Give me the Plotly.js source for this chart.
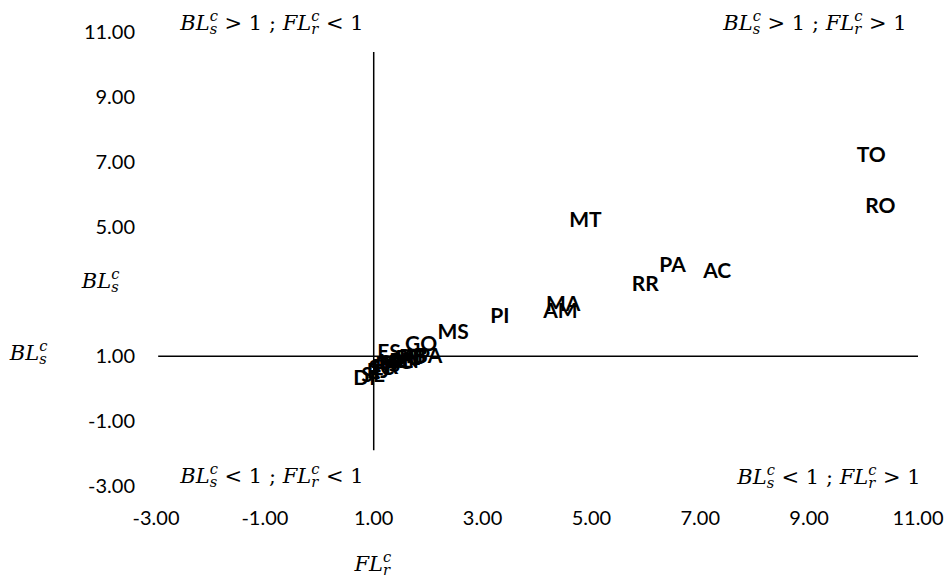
<!DOCTYPE html>
<html>
<head>
<meta charset="utf-8">
<script src="https://cdn.plot.ly/plotly-3.0.1.min.js"></script>
<style>html,body{margin:0;padding:0;background:#fff;}#chart{width:944px;height:577px;}</style>
</head>
<body>
<div id="chart"></div>
<script>
// Region labels (Brazilian states)
const states = ["TO","RO","MT","PA","AC","RR","MA","AM","PI","MS","GO","ES",
  "DF","SE","RJ","SC","PR","RS","SP","MG","CE","RN","PE","PB","AP","BA"];
// FL_r^c (x axis)
const flr = [10.14,10.31,4.89,6.49,7.31,5.99,4.48,4.43,3.32,2.46,1.87,1.28,
  0.88,0.99,1.08,1.14,1.21,1.26,1.34,1.41,1.49,1.56,1.63,1.71,1.78,2.00];
// BL_s^c (y axis)
const bls = [7.14,5.57,5.14,3.75,3.59,3.16,2.57,2.33,2.20,1.68,1.31,1.09,
  0.29,0.38,0.48,0.57,0.63,0.69,0.75,0.78,0.81,0.81,0.88,0.91,0.94,0.97];

const xTickVals = [-3,-1,1,3,5,7,9,11];
const xTickText = ["-3.00","-1.00","1.00","3.00","5.00","7.00","9.00","11.00"];
const yTickVals = [-3,-1,1,5,7,9,11];
const yTickText = ["-3.00","-1.00","1.00","5.00","7.00","9.00","11.00"];

const BL = "<i>BL</i><sub><i>s</i></sub><sup><i>c</i></sup>";
const FL = "<i>FL</i><sub><i>r</i></sub><sup><i>c</i></sup>";
const quadrants = [
  {t: BL + " &gt; 1 ; " + FL + " &lt; 1", x: 0.0185, y: 1.022},
  {t: BL + " &gt; 1 ; " + FL + " &gt; 1", x: 0.731, y: 1.022},
  {t: BL + " &lt; 1 ; " + FL + " &lt; 1", x: 0.0185, y: 0.024},
  {t: BL + " &lt; 1 ; " + FL + " &gt; 1", x: 0.749, y: 0.022}
];

const mathFont = {family: "DejaVu Serif, Liberation Serif, serif", size: 21, color: "#000"};
const annotations = quadrants.map(q => ({
  text: q.t, x: q.x, y: q.y, xref: "paper", yref: "paper", xanchor: "left", yanchor: "middle",
  showarrow: false, font: mathFont
}));
annotations.push({text: BL, x: -0.074, y: 0.453, xref: "paper", yref: "paper", xanchor: "center", yanchor: "middle", showarrow: false, font: mathFont});
annotations.push({text: BL, x: -0.168, y: 0.295, xref: "paper", yref: "paper", xanchor: "center", yanchor: "middle", showarrow: false, font: mathFont});
annotations.push({text: FL, x: 0.284, y: -0.170, xref: "paper", yref: "paper", xanchor: "center", yanchor: "middle", showarrow: false, font: mathFont});

const trace = {
  type: "scatter", mode: "text", x: flr, y: bls, text: states,
  textposition: "middle center", cliponaxis: false,
  textfont: {family: "Lato, Open Sans, sans-serif", size: 21, color: "#000", weight: "bold"},
  hoverinfo: "skip"
};

const layout = {
  width: 944, height: 577,
  margin: {l: 156, r: 26, t: 32, b: 91, pad: 0},
  paper_bgcolor: "#fff", plot_bgcolor: "#fff",
  showlegend: false,
  font: {family: "Lato, Open Sans, sans-serif", size: 20, color: "#000"},
  xaxis: {range: [-3, 11], tickvals: xTickVals, ticktext: xTickText, showgrid: false, zeroline: false,
    showline: false, ticks: "", ticklabelstandoff: 18, tickfont: {size: 20, color: "#000"}},
  yaxis: {range: [-3, 11], tickvals: yTickVals, ticktext: yTickText, showgrid: false, zeroline: false,
    showline: false, ticks: "", ticklabelstandoff: 20, tickfont: {size: 20, color: "#000"}},
  shapes: [
    {type: "line", xref: "x", yref: "y", x0: 1, x1: 1, y0: -1.9, y1: 10.38, line: {color: "#000", width: 1.5}},
    {type: "line", xref: "x", yref: "y", x0: -2.96, x1: 11, y0: 1, y1: 1, line: {color: "#000", width: 1.5}}
  ],
  annotations: annotations
};

Plotly.newPlot("chart", [trace], layout, {displayModeBar: false, staticPlot: true}).then(gd => {
  // stack each superscript above the preceding subscript (math-style BL_s^c)
  try {
    gd.querySelectorAll("text.annotation-text").forEach(t => {
      const shifted = Array.from(t.querySelectorAll("tspan")).filter(s =>
        s.hasAttribute("dy") && (s.getAttribute("style") || "").indexOf("70%") >= 0);
      for (let i = 0; i + 1 < shifted.length; i++) {
        const a = parseFloat(shifted[i].getAttribute("dy"));
        const b = parseFloat(shifted[i + 1].getAttribute("dy"));
        if (a > 0 && b < 0) {
          shifted[i + 1].setAttribute("dx", -shifted[i].getComputedTextLength());
          i++;
        }
      }
    });
  } catch (e) {}
});
</script>
</body>
</html>
